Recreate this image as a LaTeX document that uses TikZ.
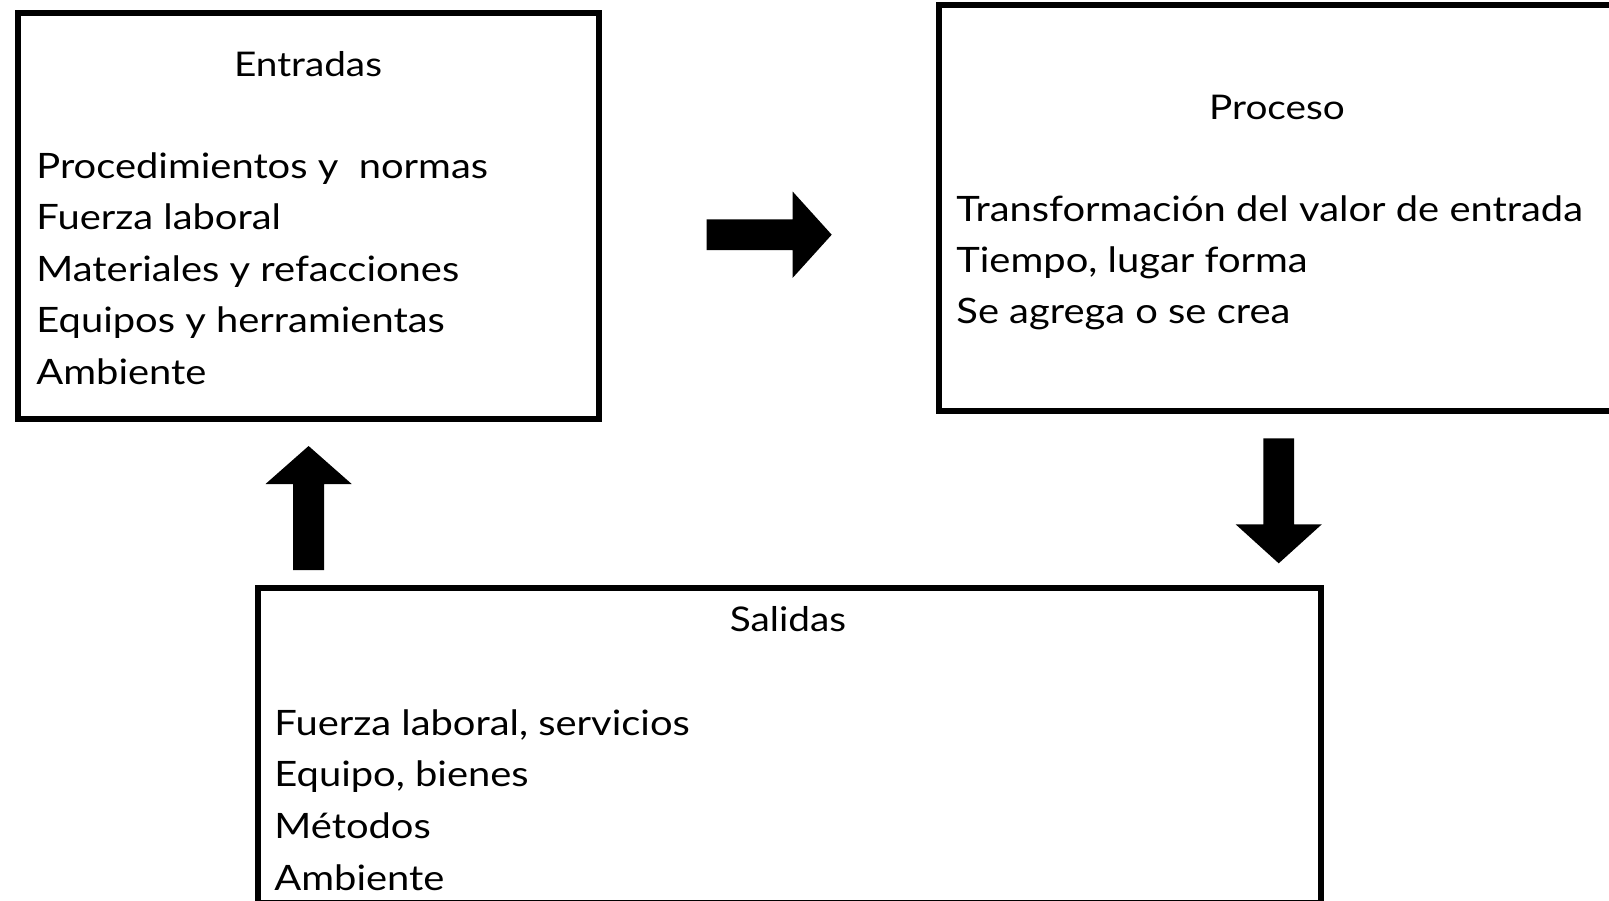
\documentclass[tikz,border=0pt]{standalone}
\usepackage{fontspec}
\setmainfont{Lato}[FakeStretch=1.14]
\usetikzlibrary{positioning}
\tikzset{
  box/.style={draw, line width=3pt, inner sep=0},
  head/.style={anchor=base, inner sep=0, font=\fontsize{17}{22}\selectfont},
  item/.style={anchor=base west, inner sep=0, font=\fontsize{17.5}{22}\selectfont},
  blockarrow/.style={fill=black}
}

\begin{document}
\begin{tikzpicture}[x=0.5pt, y=-0.5pt]
\useasboundingbox (0,0) rectangle (1609,900);
\clip (0,0) rectangle (1609,900);

      \node[box, minimum width=290.5pt, minimum height=203pt] (entradas) at (308,215.5) {};
      \node[box, minimum width=338.25pt, minimum height=202.85pt] (proceso) at (1276.75,207.85) {};
      \node[box, minimum width=531.5pt, minimum height=157.5pt] (salidas) at (789.5,745.5) {};

      \node[head] (entradas-h) at (308,76) {Entradas};
      \node[item] (entradas-1) at (36,178) {Procedimientos y \ normas};
      \node[item] (entradas-2) at (36,229.5) {Fuerza laboral};
      \node[item] (entradas-3) at (36,281) {Materiales y refacciones};
      \node[item] (entradas-4) at (36,332.5) {Equipos y herramientas};
      \node[item] (entradas-5) at (36,384) {Ambiente};

      \node[head] (proceso-h) at (1277,119.3) {Proceso};
      \node[item] (proceso-1) at (956,221.7) {Transformación del valor de entrada};
      \node[item] (proceso-2) at (956,272.5) {Tiempo, lugar forma};
      \node[item] (proceso-3) at (956,323.3) {Se agrega o se crea};

      \node[head] (salidas-h) at (788,631.7) {Salidas};
      \node[item] (salidas-1) at (274,735) {Fuerza laboral, servicios};
      \node[item] (salidas-2) at (274,786.7) {Equipo, bienes};
      \node[item] (salidas-3) at (274,838.3) {Métodos};
      \node[item] (salidas-4) at (274,890) {Ambiente};

      \fill[blockarrow, shift={(706.7,234.7)}] (0,-15.4) -- (86,-15.4) -- (86,-43.1) -- (125,0) -- (86,43.1) -- (86,15.4) -- (0,15.4) -- cycle;
      \fill[blockarrow, shift={(1278.7,438.3)}, rotate=-90] (0,-15.4) -- (86,-15.4) -- (86,-43.1) -- (125,0) -- (86,43.1) -- (86,15.4) -- (0,15.4) -- cycle;
      \fill[blockarrow, shift={(308.6,570)}, rotate=90] (0,-15.4) -- (86,-15.4) -- (86,-43.1) -- (124,0) -- (86,43.1) -- (86,15.4) -- (0,15.4) -- cycle;
\end{tikzpicture}
\end{document}
